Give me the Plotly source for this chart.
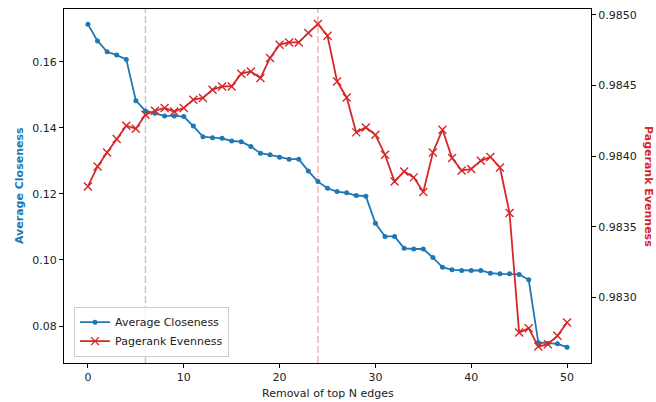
import plotly.graph_objects as go

n_removed = list(range(51))
closeness = [0.1713, 0.1663, 0.1630, 0.1620, 0.1607, 0.1482, 0.1451, 0.1444, 0.1436, 0.1436,
             0.1434, 0.1405, 0.1373, 0.1370, 0.1368, 0.1360, 0.1358, 0.1343, 0.1323, 0.1318,
             0.1311, 0.1305, 0.1305, 0.1269, 0.1237, 0.1217, 0.1207, 0.1203, 0.1195, 0.1193,
             0.1111, 0.1071, 0.1071, 0.1035, 0.1033, 0.1033, 0.1007, 0.0978, 0.0970, 0.0968,
             0.0968, 0.0968, 0.0960, 0.0958, 0.0958, 0.0956, 0.0940, 0.0750, 0.0748, 0.0746,
             0.0736]
pagerank = [0.983786, 0.983927, 0.984026, 0.984121, 0.984215, 0.984194, 0.984293, 0.984321, 0.984340, 0.984316,
            0.984340, 0.984399, 0.984411, 0.984470, 0.984493, 0.984493, 0.984583, 0.984599, 0.984552, 0.984694,
            0.984788, 0.984804, 0.984804, 0.984871, 0.984934, 0.984851, 0.984528, 0.984415, 0.984168, 0.984203,
            0.984151, 0.984010, 0.983821, 0.983892, 0.983850, 0.983746, 0.984026, 0.984187, 0.983987, 0.983899,
            0.983909, 0.983967, 0.983994, 0.983920, 0.983598, 0.982753, 0.982784, 0.982654, 0.982671, 0.982730,
            0.982824]
closeness_marker_x = 6
pagerank_marker_x = 24
x_ticks = [0, 10, 20, 30, 40, 50]
left_ticks = [0.08, 0.10, 0.12, 0.14, 0.16]
right_ticks = [0.9830, 0.9835, 0.9840, 0.9845, 0.9850]

BLUE = "#1f77b4"
RED = "#d62728"
FONT = "DejaVu Sans"

fig = go.Figure()
fig.add_trace(go.Scatter(
    x=n_removed, y=closeness, name="Average Closeness", mode="lines+markers",
    line=dict(color=BLUE, width=1.8), marker=dict(symbol="circle", size=5, color=BLUE),
    yaxis="y"))
fig.add_trace(go.Scatter(
    x=n_removed, y=pagerank, name="Pagerank Evenness", mode="lines+markers",
    line=dict(color=RED, width=1.8),
    marker=dict(symbol="x-thin", size=8, color=RED, line=dict(width=1.4, color=RED)),
    yaxis="y2"))

fig.add_shape(type="line", xref="x", yref="paper", x0=closeness_marker_x, x1=closeness_marker_x,
              y0=0, y1=1, line=dict(color="rgba(31,119,180,0.4)", width=1.3, dash="7px,3px"), layer="below")
fig.add_shape(type="line", xref="x", yref="paper", x0=pagerank_marker_x, x1=pagerank_marker_x,
              y0=0, y1=1, line=dict(color="rgba(214,39,40,0.4)", width=1.3, dash="7px,3px"), layer="below")

axis_common = dict(showline=True, linecolor="black", linewidth=1, ticks="outside", ticklen=4,
                   tickcolor="black", showgrid=False, zeroline=False,
                   tickfont=dict(family=FONT, size=11, color="#222"))

fig.update_layout(
    width=656, height=402,
    margin=dict(l=64, r=65, t=9, b=39),
    paper_bgcolor="white", plot_bgcolor="white",
    font=dict(family=FONT, size=11, color="#222"),
    xaxis=dict(range=[-2.5, 52.5], tickvals=x_ticks, mirror=True, **axis_common),
    yaxis=dict(range=[0.0688, 0.17595], tickvals=left_ticks, tickformat=".2f", **axis_common),
    yaxis2=dict(range=[0.982538, 0.98504], tickvals=right_ticks, tickformat=".4f",
                overlaying="y", side="right", **axis_common),
    showlegend=True,
    legend=dict(x=0.019, y=0.018, xanchor="left", yanchor="bottom",
                bgcolor="rgba(255,255,255,0.8)", bordercolor="#cccccc", borderwidth=1,
                font=dict(family=FONT, size=11, color="#222"), tracegroupgap=0),
    annotations=[
        dict(text="<b>Average Closeness</b>", xref="paper", yref="paper", x=0, y=0.5,
             xanchor="center", yanchor="middle", xshift=-45, textangle=-90, showarrow=False,
             font=dict(family=FONT, size=11, color=BLUE)),
        dict(text="<b>Pagerank Evenness</b>", xref="paper", yref="paper", x=1, y=0.5,
             xanchor="center", yanchor="middle", xshift=58, textangle=90, showarrow=False,
             font=dict(family=FONT, size=11, color=RED)),
        dict(text="Removal of top N edges", xref="paper", yref="paper", x=0.5, y=0,
             xanchor="center", yanchor="middle", yshift=-30, showarrow=False,
             font=dict(family=FONT, size=11, color="#222")),
    ],
)

fig.write_html("out.html",
               config={"displayModeBar": False},
               post_script="document.body.style.margin='0';document.body.style.overflow='hidden';")
